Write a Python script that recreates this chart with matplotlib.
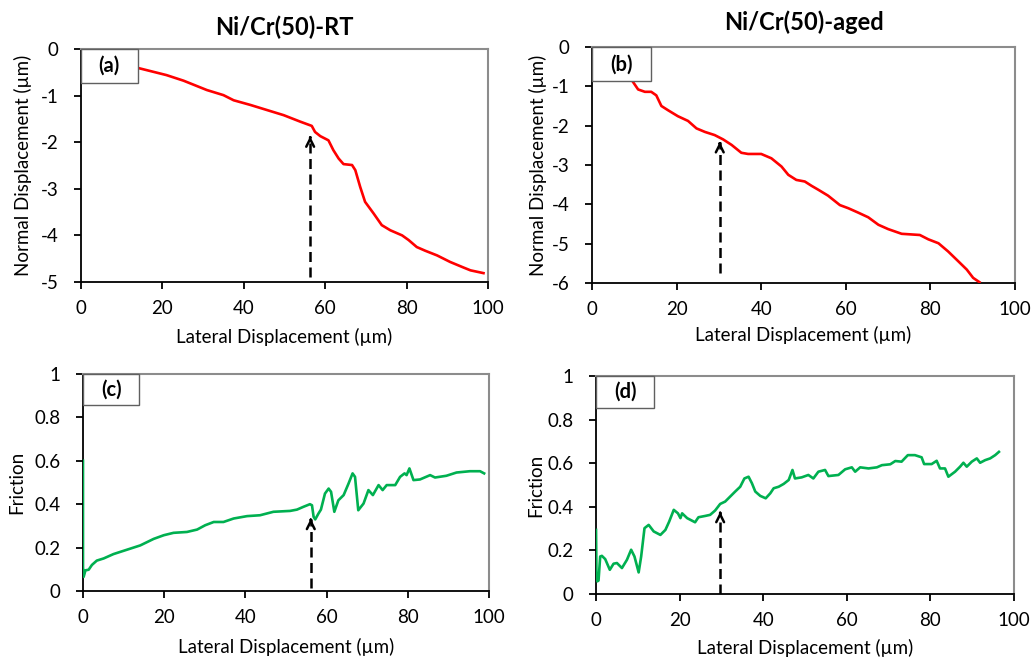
"""Nanoscratch profiles: normal displacement and friction vs lateral displacement."""
import matplotlib
matplotlib.use("Agg")
import matplotlib.pyplot as plt
from matplotlib.patches import Rectangle

plt.rcParams["font.family"] = ["Lato", "DejaVu Sans"]

# --- (a) Ni/Cr(50)-RT normal displacement ---
a_x = [13.7, 21.0, 25.2, 30.9, 35.0, 37.5, 41.6, 45.7, 49.8, 53.9, 56.7, 57.5, 58.8,
       60.8, 62.0, 63.3, 64.5, 66.6, 67.4, 68.6, 69.8, 71.9, 73.9, 76.0, 78.9, 80.5,
       82.5, 84.6, 87.5, 90.7, 94.0, 95.7, 98.9]
a_y = [-0.40, -0.56, -0.68, -0.88, -0.99, -1.10, -1.20, -1.31, -1.42, -1.56, -1.65,
       -1.78, -1.87, -1.96, -2.17, -2.35, -2.47, -2.49, -2.60, -2.96, -3.28, -3.53,
       -3.78, -3.89, -4.00, -4.10, -4.25, -4.33, -4.43, -4.57, -4.69, -4.75, -4.81]

# --- (b) Ni/Cr(50)-aged normal displacement ---
b_x = [9.7, 10.9, 12.5, 14.0, 15.2, 16.4, 18.0, 20.3, 22.7, 24.7, 26.7, 29.0, 31.0,
       33.0, 35.3, 36.9, 40.0, 42.4, 44.8, 46.4, 48.3, 50.3, 51.9, 53.5, 55.8, 58.6,
       60.6, 62.9, 65.3, 67.7, 70.0, 73.2, 77.5, 79.5, 81.9, 84.2, 86.6, 88.6, 90.1, 91.6]
b_y = [-0.89, -1.08, -1.14, -1.14, -1.23, -1.50, -1.61, -1.76, -1.88, -2.07, -2.16,
       -2.24, -2.35, -2.49, -2.69, -2.72, -2.72, -2.83, -3.04, -3.25, -3.38, -3.42,
       -3.53, -3.63, -3.78, -4.02, -4.10, -4.21, -4.33, -4.52, -4.63, -4.75, -4.78,
       -4.89, -4.99, -5.20, -5.45, -5.66, -5.87, -5.98]

# --- (c) Ni/Cr(50)-RT friction ---
c_x = [0.0, 0.0, 0.16, 0.6, 1.4, 2.2, 3.4, 5.1, 7.5, 10.8, 14.1, 17.4, 19.9, 22.3,
       25.6, 28.1, 30.1, 32.2, 34.6, 37.1, 40.4, 43.6, 46.9, 51.0, 52.7, 54.3, 55.9,
       56.4, 56.8, 57.2, 58.0, 58.6, 59.6, 60.5, 61.1, 61.9, 62.9, 64.2, 65.4, 66.4,
       67.0, 67.8, 69.1, 70.3, 71.4, 72.8, 73.8, 74.8, 76.9, 78.1, 79.2, 79.7, 80.4,
       81.4, 83.0, 85.5, 86.7, 89.5, 92.0, 95.3, 97.8, 98.8]
c_y = [0.60, 0.11, 0.065, 0.095, 0.098, 0.12, 0.14, 0.15, 0.17, 0.19, 0.21, 0.24,
       0.257, 0.268, 0.272, 0.283, 0.303, 0.318, 0.318, 0.334, 0.345, 0.349, 0.365,
       0.369, 0.375, 0.388, 0.400, 0.395, 0.342, 0.330, 0.357, 0.375, 0.449, 0.472,
       0.457, 0.365, 0.418, 0.442, 0.495, 0.542, 0.526, 0.372, 0.403, 0.465, 0.442,
       0.488, 0.465, 0.488, 0.488, 0.526, 0.542, 0.534, 0.565, 0.511, 0.514, 0.534,
       0.523, 0.531, 0.546, 0.552, 0.552, 0.542]

# --- (d) Ni/Cr(50)-aged friction ---
d_x = [0.0, 0.1, 0.3, 0.6, 1.0, 1.4, 2.2, 3.3, 4.2, 5.0, 6.2, 7.4, 8.4, 9.2, 10.2,
       10.8, 11.6, 12.6, 13.8, 15.4, 16.6, 17.5, 18.6, 19.6, 20.2, 20.6, 21.8, 22.9,
       23.7, 24.5, 26.1, 27.3, 28.5, 29.7, 30.9, 32.1, 33.3, 34.5, 35.5, 36.5, 37.3,
       38.1, 39.3, 40.6, 41.7, 42.5, 43.7, 44.9, 46.1, 47.0, 47.6, 49.2, 50.8, 52.0,
       53.2, 54.8, 55.6, 58.0, 59.6, 61.2, 62.0, 63.2, 65.2, 67.2, 68.4, 70.4, 71.6,
       73.1, 74.6, 76.3, 77.9, 78.5, 80.3, 81.5, 82.3, 83.5, 84.3, 85.9, 87.1, 87.9,
       88.7, 89.9, 91.1, 91.9, 93.1, 94.3, 95.5, 96.4]
d_y = [0.294, 0.096, 0.058, 0.062, 0.172, 0.175, 0.160, 0.111, 0.139, 0.142, 0.119,
       0.157, 0.203, 0.172, 0.099, 0.172, 0.302, 0.317, 0.287, 0.271, 0.294, 0.332,
       0.386, 0.370, 0.348, 0.370, 0.348, 0.337, 0.329, 0.352, 0.358, 0.363, 0.383,
       0.413, 0.424, 0.447, 0.470, 0.492, 0.530, 0.538, 0.508, 0.470, 0.450, 0.439,
       0.462, 0.485, 0.492, 0.505, 0.523, 0.569, 0.530, 0.535, 0.546, 0.530, 0.561,
       0.569, 0.541, 0.546, 0.572, 0.581, 0.561, 0.581, 0.576, 0.581, 0.591, 0.595,
       0.610, 0.607, 0.637, 0.637, 0.627, 0.596, 0.596, 0.611, 0.576, 0.576, 0.538,
       0.561, 0.584, 0.602, 0.584, 0.607, 0.622, 0.602, 0.614, 0.622, 0.637, 0.652]

# arrows: x position, bottom, top
arrows = {"a": (56.3, -4.89, -1.87), "b": (30.2, -5.75, -2.41),
          "c": (56.1, 0.015, 0.334), "d": (29.7, 0.0, 0.378)}

titles = {"a": "Ni/Cr(50)-RT", "b": "Ni/Cr(50)-aged"}
title_pad = {"a": 10, "b": 12}
RED = "#ff0000"
GREEN = "#00b050"

fig = plt.figure(figsize=(10.31, 6.57), dpi=100)
rects = {"a": [0.0786, 0.5708, 0.3947, 0.3546],
         "b": [0.5742, 0.5693, 0.4103, 0.3592],
         "c": [0.0805, 0.1005, 0.3938, 0.3302],
         "d": [0.5781, 0.0959, 0.4054, 0.3318]}
# label positions in axes fraction (ylabel x, xlabel y)
ylab_x = {"a": -0.1425, "b": -0.128, "c": -0.163, "d": -0.145}
xlab_y = {"a": -0.236, "b": -0.22, "c": -0.258, "d": -0.248}

panels = {
    "a": (a_x, a_y, RED, (-5, 0), range(-5, 1), "Normal Displacement (\u00b5m)"),
    "b": (b_x, b_y, RED, (-6, 0), range(-6, 1), "Normal Displacement (\u00b5m)"),
    "c": (c_x, c_y, GREEN, (0, 1), [0, 0.2, 0.4, 0.6, 0.8, 1], "Friction"),
    "d": (d_x, d_y, GREEN, (0, 1), [0, 0.2, 0.4, 0.6, 0.8, 1], "Friction"),
}

for key, (xs, ys, col, ylim, yt, ylab) in panels.items():
    ax = fig.add_axes(rects[key])
    ax.plot(xs, ys, color=col, lw=1.9, zorder=3)
    ax.set_xlim(0, 100)
    ax.set_ylim(*ylim)
    ax.set_xticks(range(0, 101, 20))
    ax.set_yticks(list(yt))
    ax.set_yticklabels([f"{v:g}" for v in yt])
    ax.tick_params(direction="out", length=5, width=1.3, labelsize=13.5)
    ax.tick_params(axis="x", pad=8)
    ax.tick_params(axis="y", pad=11)
    for s in ("left", "bottom"):
        ax.spines[s].set_color("black")
        ax.spines[s].set_linewidth(1.3)
    for s in ("top", "right"):
        ax.spines[s].set_color("#8c8c8c")
        ax.spines[s].set_linewidth(1.5)
    ax.set_xlabel("Lateral Displacement (\u00b5m)", fontsize=13.5, va="center")
    ax.set_ylabel(ylab, fontsize=13.5, va="center")
    ax.xaxis.set_label_coords(0.5, xlab_y[key])
    ax.yaxis.set_label_coords(ylab_x[key], 0.5)

    # dashed arrow
    arr_x, y0, y1 = arrows[key]
    ax.plot([arr_x, arr_x], [y0, y1], color="black", lw=1.8, dashes=[4, 2.2], zorder=4)
    ax.annotate("", xy=(arr_x, y1), xytext=(arr_x, y1 - 0.02 * (ylim[1] - ylim[0])),
                arrowprops=dict(arrowstyle="->", color="black", lw=1.8,
                                mutation_scale=14), zorder=4)

    # panel label box
    ax.add_patch(Rectangle((0, 0.855), 0.139, 0.145, transform=ax.transAxes,
                           facecolor="white", edgecolor="#606060", lw=1.0, zorder=5,
                           clip_on=False))
    ax.text(0.0695, 0.927, f"({key})", transform=ax.transAxes, ha="center",
            va="center", fontsize=14.5, fontweight="bold", zorder=6)

    if key in titles:
        ax.set_title(titles[key], fontsize=17, fontweight="bold", pad=title_pad[key])

fig.savefig("out.png", dpi=100)
